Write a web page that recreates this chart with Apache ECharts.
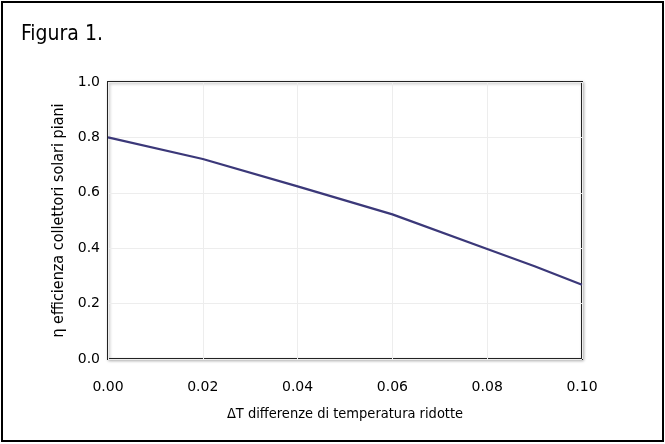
<!DOCTYPE html>
<html>
<head>
<meta charset="utf-8">
<script src="https://cdn.jsdelivr.net/npm/echarts@6/dist/echarts.min.js"></script>
<style>
html,body{margin:0;padding:0;background:#fff;}
#c{width:665px;height:444px;}
</style>
</head>
<body>
<div id="c"></div>
<script>
const titleText = 'Figura 1.';
const xAxisName = '\u0394T differenze di temperatura ridotte';
const yAxisName = '\u03b7 efficienza collettori solari piani';
const xValues = [0.00, 0.02, 0.04, 0.06, 0.08, 0.09, 0.10];
const yValues = [0.80, 0.722, 0.623, 0.522, 0.397, 0.335, 0.268];

const FONT = '"DejaVu Sans Condensed", "DejaVu Sans", sans-serif';
const FONT_R = '"DejaVu Sans", sans-serif';
const chart = echarts.init(document.getElementById('c'), null, {renderer: 'canvas'});
chart.setOption({
  backgroundColor: '#fff',
  animation: false,
  title: {
    text: titleText, left: 16, top: 19,
    textStyle: {fontFamily: FONT, fontSize: 21, fontWeight: 'normal', color: '#000'}
  },
  graphic: [{
    type: 'rect', shape: {x: 2, y: 2, width: 661, height: 439},
    style: {fill: 'none', stroke: '#000', lineWidth: 2}, z: 100
  }],
  grid: {
    left: 108, right: 83, top: 82, bottom: 85,
    show: true, borderColor: '#222', borderWidth: 2, backgroundColor: '#fff',
    shadowColor: 'rgba(0,0,0,0.25)', shadowBlur: 3, shadowOffsetX: 1, shadowOffsetY: 1
  },
  xAxis: {
    type: 'value', min: 0, max: 0.1, interval: 0.02,
    name: xAxisName, nameLocation: 'middle', nameGap: 48,
    nameTextStyle: {fontFamily: FONT, fontSize: 14.5, color: '#000'},
    axisLine: {show: false}, axisTick: {show: false},
    axisLabel: {fontFamily: FONT_R, fontSize: 14, color: '#000', margin: 21,
      formatter: v => v.toFixed(2)},
    splitLine: {show: true, lineStyle: {color: '#ededed', width: 1}}
  },
  yAxis: {
    type: 'value', min: 0, max: 1, interval: 0.2,
    name: yAxisName, nameLocation: 'middle', nameGap: 39,
    nameTextStyle: {fontFamily: FONT, fontSize: 16, color: '#000'},
    axisLine: {show: false}, axisTick: {show: false},
    axisLabel: {fontFamily: FONT_R, fontSize: 14, color: '#000', margin: 8,
      formatter: v => v.toFixed(1)},
    splitLine: {show: true, lineStyle: {color: '#ededed', width: 1}}
  },
  series: [{
    type: 'line',
    data: xValues.map((x, i) => [x, yValues[i]]),
    showSymbol: false, symbol: 'none',
    lineStyle: {color: '#3b3879', width: 2.2},
    z: 5
  }]
});
</script>
</body>
</html>
